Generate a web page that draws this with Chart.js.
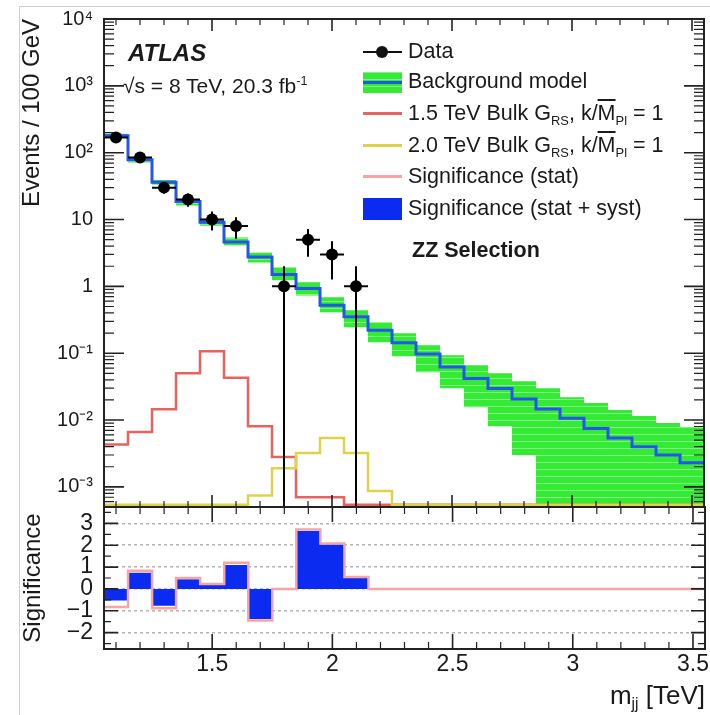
<!DOCTYPE html>
<html>
<head>
<meta charset="utf-8">
<title>ATLAS ZZ selection - m_jj</title>
<script src="https://cdn.jsdelivr.net/npm/chart.js@4.4.1/dist/chart.umd.min.js"></script>
<style>
  body { margin: 0; background: #fff; }
  #page { position: relative; width: 710px; height: 715px; overflow: hidden; background: #fff;
          font-family: "Liberation Sans", Arial, Helvetica, sans-serif; color: #1a1a1a; }
  #page canvas { position: absolute; left: 0; }
  #mainCanvas { top: 0; }
  #sigCanvas { top: 500px; }
  .edge { position: absolute; left: 19px; top: 6px; right: -5px; bottom: -5px;
          border-left: 1px solid #d0d0d0; border-top: 1px solid #d0d0d0; }
  .txt { position: absolute; white-space: nowrap; line-height: 1; }
  .txt sub { font-size: 0.6em; vertical-align: -0.35em; line-height: 0; }
  .txt sup { font-size: 0.6em; vertical-align: 0.6em; line-height: 0; }
  .leg { font-size: 21.5px; left: 408px; }
  .sym { position: absolute; left: 363px; width: 39px; }
  .ov { text-decoration: overline; }
</style>
</head>
<body>
<div id="page">
  <div class="edge"></div>
  <canvas id="mainCanvas" width="710" height="515"></canvas>
  <canvas id="sigCanvas" width="710" height="215"></canvas>

  <div class="txt" style="left:128px; top:41px; font-size:24px; font-weight:bold; font-style:italic;">ATLAS</div>
  <div class="txt" style="left:123px; top:75px; font-size:21px;">√s = 8 TeV, 20.3 fb<sup>-1</sup></div>

  <!-- legend -->
  <div class="sym" style="top:51px; height:2px; background:#111;"></div>
  <div style="position:absolute; left:376px; top:46px; width:12px; height:12px; border-radius:50%; background:#111;"></div>
  <div class="txt leg" style="top:41px;">Data</div>

  <div class="sym" style="top:72px; height:21px; background:repeating-linear-gradient(to bottom, #80f280 0 1px, #35ea35 1px 7px);"></div>
  <div class="sym" style="top:81px; height:3px; background:#2456ee;"></div>
  <div class="txt leg" style="top:71px;">Background model</div>

  <div class="sym" style="top:112px; height:2.5px; background:#e8625e;"></div>
  <div class="txt leg" style="top:103px;">1.5 TeV Bulk G<sub>RS</sub>, k/<span class="ov">M</span><sub>Pl</sub> = 1</div>

  <div class="sym" style="top:144px; height:2.5px; background:#dcd24c;"></div>
  <div class="txt leg" style="top:135px;">2.0 TeV Bulk G<sub>RS</sub>, k/<span class="ov">M</span><sub>Pl</sub> = 1</div>

  <div class="sym" style="top:175px; height:2.5px; background:#f6a4a4;"></div>
  <div class="txt leg" style="top:166px;">Significance (stat)</div>

  <div class="sym" style="top:198px; height:22px; background:#0b2cf0;"></div>
  <div class="txt leg" style="top:198px;">Significance (stat + syst)</div>

  <div class="txt" style="left:412px; top:240px; font-size:21.5px; font-weight:bold;">ZZ Selection</div>

  <div class="txt" style="right:5px; top:682px; font-size:26px;">m<sub>jj</sub> [TeV]</div>
</div>

<script>
// 100 GeV bins from 1.05 to 3.55 TeV
const binCenters = [1.1, 1.2, 1.3, 1.4, 1.5, 1.6, 1.7, 1.8, 1.9, 2.0, 2.1, 2.2, 2.3,
                    2.4, 2.5, 2.6, 2.7, 2.8, 2.9, 3.0, 3.1, 3.2, 3.3, 3.4, 3.5];
const binWidth = 0.1;

const dataEvents = [169, 85, 30, 20, 10, 8, 0, 1, 5, 3, 1, 0, 0,
                    0, 0, 0, 0, 0, 0, 0, 0, 0, 0, 0, 0];
const bkgModel = [179, 78.6, 36, 18.6, 9.1, 4.6, 2.74, 1.5, 0.93, 0.52, 0.35, 0.22, 0.143,
                  0.097, 0.062, 0.042, 0.0297, 0.0206, 0.0146, 0.0106, 0.0075, 0.0054, 0.0040, 0.0030, 0.0023];
const bkgUp = [192, 84, 39, 19.9, 10.3, 5.4, 3.2, 1.92, 1.15, 0.685, 0.44, 0.29, 0.199,
               0.132, 0.093, 0.066, 0.050, 0.038, 0.030, 0.022, 0.018, 0.0141, 0.0115, 0.0090, 0.0079];
const bkgDown = [167, 71, 33.3, 16.2, 8.1, 4.1, 2.28, 1.23, 0.73, 0.41, 0.244, 0.146, 0.090,
                 0.052, 0.030, 0.0156, 0.0081, 0.0030, 0, 0, 0, 0, 0, 0, 0];
const bulk15 = [0.0043, 0.0066, 0.0145, 0.050, 0.107, 0.043, 0.0081, 0.0028, 0.0007, 0.0007, 0, 0, 0,
                0, 0, 0, 0, 0, 0, 0, 0, 0, 0, 0, 0];
const bulk20 = [0, 0, 0, 0, 0, 0, 0.00074, 0.0019, 0.0032, 0.0054, 0.0032, 0.00087, 0,
                0, 0, 0, 0, 0, 0, 0, 0, 0, 0, 0, 0];

const sigStat = [-0.83, 0.83, -0.88, 0.5, 0.22, 1.2, -1.44, 0, 2.72, 2.08, 0.55, 0, 0,
                 0, 0, 0, 0, 0, 0, 0, 0, 0, 0, 0, 0];
const sigStatSyst = [-0.53, 0.74, -0.77, 0.44, 0.18, 1.09, -1.38, 0, 2.65, 2.03, 0.53, 0, 0,
                     0, 0, 0, 0, 0, 0, 0, 0, 0, 0, 0, 0];

const yTickValues = [1e-3, 1e-2, 1e-1, 1, 10, 100, 1000, 10000];
const sigTickValues = [-2, -1, 0, 1, 2, 3];
const xTickValues = [1.5, 2, 2.5, 3, 3.5];

const X_MIN = 1.05, X_MAX = 3.55;
const Y_MIN = 5e-4, Y_MAX = 1e4;
const zeroFloor = 5.4e-4;   // empty signal bins sit on the bottom edge, like ROOT

Chart.defaults.font.family = '"Liberation Sans", Arial, Helvetica, sans-serif';
Chart.defaults.color = '#1a1a1a';

function steps(values, floor) {
  const pts = binCenters.map((c, i) => ({
    x: c - binWidth / 2,
    y: floor !== undefined ? Math.max(values[i], floor) : values[i]
  }));
  pts.push({ x: binCenters[binCenters.length - 1] + binWidth / 2, y: pts[pts.length - 1].y });
  return pts;
}

function rangeTicks(lo, hi, step) {
  const out = [];
  for (let v = lo; v <= hi + 1e-9; v += step) out.push(+v.toFixed(4));
  return out;
}

const xMinorTicks = rangeTicks(1.1, 3.5, 0.1).filter(v => !xTickValues.some(m => Math.abs(m - v) < 1e-6));
const logMinorTicks = [];
for (let e = -4; e <= 3; e++) {
  for (let k = 2; k <= 9; k++) {
    const v = k * Math.pow(10, e);
    if (v > Y_MIN && v < Y_MAX) logMinorTicks.push(v);
  }
}
const sigMinorTicks = [-2.5, -1.5, -0.5, 0.5, 1.5, 2.5, 3.5];

const supMap = { '-': '⁻', '0': '⁰', '1': '¹', '2': '²', '3': '³', '4': '⁴', '5': '⁵', '6': '⁶', '7': '⁷', '8': '⁸', '9': '⁹' };
function logLabel(v) {
  const e = Math.round(Math.log10(v));
  if (e === 0) return '1';
  if (e === 1) return '10';
  return '10' + String(e).split('').map(ch => supMap[ch]).join('');
}

function greenPattern() {
  const c = document.createElement('canvas');
  c.width = 8; c.height = 7;
  const g = c.getContext('2d');
  g.fillStyle = '#35ea35';
  g.fillRect(0, 0, 8, 7);
  g.fillStyle = '#80f280';
  g.fillRect(0, 0, 8, 1);
  return g.createPattern(c, 'repeat');
}

// ROOT style frame with inward ticks on all four sides
const rootFrame = {
  id: 'rootFrame',
  afterDraw(chart, args, o) {
    const { ctx, chartArea: a, scales: { x, y } } = chart;
    ctx.save();
    ctx.strokeStyle = '#222';
    const xt = (list, len, w) => {
      ctx.lineWidth = w;
      ctx.beginPath();
      list.forEach(v => {
        const px = x.getPixelForValue(v);
        ctx.moveTo(px, a.bottom); ctx.lineTo(px, a.bottom - len);
        ctx.moveTo(px, a.top); ctx.lineTo(px, a.top + len);
      });
      ctx.stroke();
    };
    const yt = (list, len, w) => {
      ctx.lineWidth = w;
      ctx.beginPath();
      list.forEach(v => {
        const py = y.getPixelForValue(v);
        ctx.moveTo(a.left, py); ctx.lineTo(a.left + len, py);
        ctx.moveTo(a.right, py); ctx.lineTo(a.right - len, py);
      });
      ctx.stroke();
    };
    xt(o.xMinor, o.xMinorLen, 1.2);
    xt(o.xMajor, o.xMajorLen, 1.6);
    yt(o.yMinor, o.yMinorLen, 1.2);
    yt(o.yMajor, o.yMajorLen, 1.6);
    ctx.lineWidth = 2;
    ctx.strokeRect(a.left, a.top, a.width, a.height);
    ctx.restore();
  }
};

// Poisson (sqrt N) error bars on the data points
const errorBars = {
  id: 'errorBars',
  afterDatasetsDraw(chart) {
    const { ctx, chartArea: a, scales: { x, y } } = chart;
    ctx.save();
    ctx.beginPath();
    ctx.rect(a.left, a.top, a.width, a.height);
    ctx.clip();
    ctx.strokeStyle = '#000';
    ctx.lineWidth = 2;
    ctx.beginPath();
    binCenters.forEach((c, i) => {
      const n = dataEvents[i];
      if (!n) return;
      const err = Math.sqrt(n);
      const px = x.getPixelForValue(c);
      const py = y.getPixelForValue(n);
      const top = y.getPixelForValue(n + err);
      const bottom = n - err > 0 ? y.getPixelForValue(n - err) : a.bottom;
      ctx.moveTo(px, top); ctx.lineTo(px, bottom);
      ctx.moveTo(x.getPixelForValue(c - binWidth / 2), py);
      ctx.lineTo(x.getPixelForValue(c + binWidth / 2), py);
    });
    ctx.stroke();
    ctx.restore();
  }
};

const dataPoints = binCenters.map((c, i) => ({ x: c, y: dataEvents[i] })).filter(p => p.y > 0);

new Chart(document.getElementById('mainCanvas'), {
  type: 'line',
  data: {
    datasets: [
      { label: 'Data', data: dataPoints, showLine: false, pointRadius: 6, pointBackgroundColor: '#000',
        pointBorderWidth: 0, order: 0 },
      { label: 'Background model', data: steps(bkgModel), stepped: 'before', borderColor: '#2456ee',
        borderWidth: 3, pointRadius: 0, fill: false, order: 1 },
      { label: '1.5 TeV Bulk G', data: steps(bulk15, zeroFloor), stepped: 'before', borderColor: '#e8625e',
        borderWidth: 2.5, pointRadius: 0, fill: false, order: 3 },
      { label: '2.0 TeV Bulk G', data: steps(bulk20, zeroFloor), stepped: 'before', borderColor: '#dcd24c',
        borderWidth: 2.5, pointRadius: 0, fill: false, order: 2 },
      { label: 'band up', data: steps(bkgUp), stepped: 'before', borderWidth: 0, borderColor: 'transparent',
        pointRadius: 0, fill: '+1', backgroundColor: greenPattern(), order: 5 },
      { label: 'band down', data: steps(bkgDown, 1e-6), stepped: 'before', borderWidth: 0,
        borderColor: 'transparent', pointRadius: 0, fill: false, order: 6 }
    ]
  },
  options: {
    responsive: false,
    animation: false,
    events: [],
    layout: { padding: { top: 19, right: 5, bottom: 8, left: 0 } },
    plugins: {
      legend: { display: false },
      tooltip: { enabled: false },
      rootFrame: {
        xMajor: xTickValues, xMajorLen: 12, xMinor: xMinorTicks, xMinorLen: 6,
        yMajor: yTickValues, yMajorLen: 20, yMinor: logMinorTicks, yMinorLen: 10
      }
    },
    scales: {
      x: { type: 'linear', min: X_MIN, max: X_MAX, display: false },
      y: {
        type: 'logarithmic', min: Y_MIN, max: Y_MAX,
        afterBuildTicks: s => { s.ticks = yTickValues.map(v => ({ value: v })); },
        afterFit: s => { s.width = 104; s.paddingTop = 0; s.paddingBottom = 0; },
        grid: { display: false, drawTicks: false },
        border: { display: false },
        ticks: { padding: 11, font: { size: 20 }, autoSkip: false, callback: v => logLabel(v) },
        title: { display: true, text: 'Events / 100 GeV', align: 'end', font: { size: 24 },
                 padding: { top: 18, bottom: 0 } }
      }
    }
  },
  plugins: [errorBars, rootFrame]
});

new Chart(document.getElementById('sigCanvas'), {
  type: 'line',
  data: {
    datasets: [
      { label: 'Significance (stat)', data: steps(sigStat), stepped: 'before', borderColor: '#f6a4a4',
        borderWidth: 2.5, pointRadius: 0, fill: false, order: 0 },
      { label: 'Significance (stat + syst)', data: steps(sigStatSyst), stepped: 'before', borderWidth: 0,
        borderColor: 'transparent', backgroundColor: '#0b2cf0', pointRadius: 0, fill: 'origin', order: 1 }
    ]
  },
  options: {
    responsive: false,
    animation: false,
    events: [],
    layout: { padding: { top: 7, right: 5, bottom: 0, left: 0 } },
    plugins: {
      legend: { display: false },
      tooltip: { enabled: false },
      rootFrame: {
        xMajor: xTickValues, xMajorLen: 15, xMinor: xMinorTicks, xMinorLen: 7,
        yMajor: sigTickValues, yMajorLen: 14, yMinor: sigMinorTicks, yMinorLen: 7
      }
    },
    scales: {
      x: {
        type: 'linear', min: X_MIN, max: X_MAX,
        afterBuildTicks: s => { s.ticks = xTickValues.map(v => ({ value: v })); },
        afterFit: s => { s.height = 66; s.paddingLeft = 0; s.paddingRight = 0; },
        grid: { display: false, drawTicks: false },
        border: { display: false },
        ticks: { padding: 2, font: { size: 23 }, autoSkip: false, maxRotation: 0, callback: v => String(v) }
      },
      y: {
        type: 'linear', min: -2.75, max: 3.75,
        afterBuildTicks: s => { s.ticks = sigTickValues.map(v => ({ value: v })); },
        afterFit: s => { s.width = 104; s.paddingTop = 0; s.paddingBottom = 0; },
        grid: { display: true, drawTicks: false, color: '#b4b4b4', lineWidth: 1.5 },
        border: { display: false, dash: [3, 3] },
        ticks: { padding: 11, font: { size: 23 }, autoSkip: false,
                 callback: v => (v < 0 ? '\u2212' + Math.abs(v) : String(v)) },
        title: { display: true, text: 'Significance', align: 'center', font: { size: 24 },
                 padding: { top: 19, bottom: 0 } }
      }
    }
  },
  plugins: [rootFrame]
});
</script>
</body>
</html>
